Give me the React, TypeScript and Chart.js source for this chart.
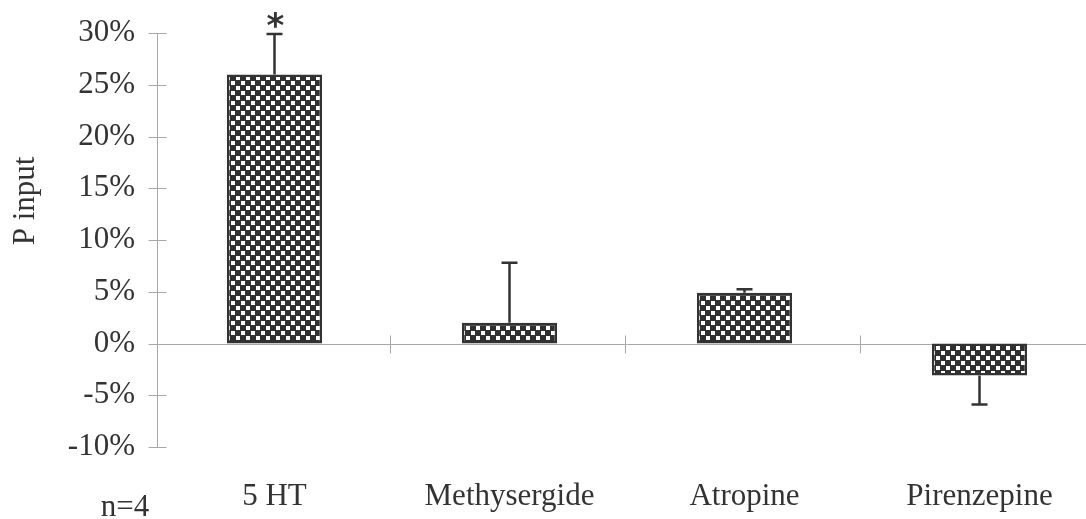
import React, { useEffect, useRef } from "react";
import { Chart, registerables } from "chart.js";

Chart.register(...registerables);

const categories = ["5 HT", "Methysergide", "Atropine", "Pirenzepine"];
const values = [26.0, 2.0, 4.9, -3.1];
const errors = [3.9, 5.8, 0.35, 2.8];
const yTicks = [-10, -5, 0, 5, 10, 15, 20, 25, 30];
const significant = [true, false, false, false];
const yTitle = "P input";
const footnote = "n=4";

const FONT = "'Liberation Serif', 'Times New Roman', serif";
const INK = "#333333";
const AXIS = "#a8a8a8";

function makePattern(): CanvasPattern | string {
  const c = document.createElement("canvas");
  c.width = 10;
  c.height = 10;
  const g = c.getContext("2d");
  if (!g) return INK;
  g.fillStyle = "#303030";
  g.fillRect(0, 0, 10, 10);
  g.fillStyle = "#ffffff";
  g.fillRect(1, 1, 4, 4);
  g.fillRect(6, 6, 4, 4);
  const p = g.createPattern(c, "repeat");
  return p || INK;
}

const axesPlugin = {
  id: "customAxes",
  beforeDatasetsDraw(chart: any) {
    const { ctx, chartArea, scales } = chart;
    const y = scales.y;
    const x = scales.x;
    ctx.save();
    ctx.strokeStyle = AXIS;
    ctx.lineWidth = 1;
    const ax = Math.round(chartArea.left) + 0.5;
    ctx.beginPath();
    ctx.moveTo(ax, y.getPixelForValue(yTicks[yTicks.length - 1]));
    ctx.lineTo(ax, y.getPixelForValue(yTicks[0]));
    ctx.stroke();
    for (const t of yTicks) {
      const py = Math.round(y.getPixelForValue(t)) + 0.5;
      ctx.beginPath();
      ctx.moveTo(ax - 9, py);
      ctx.lineTo(ax + 9, py);
      ctx.stroke();
    }
    const zy = Math.round(y.getPixelForValue(0)) + 0.5;
    ctx.beginPath();
    ctx.moveTo(ax, zy);
    ctx.lineTo(chartArea.right, zy);
    ctx.stroke();
    for (let i = 0; i < categories.length - 1; i++) {
      const bx = Math.round((x.getPixelForTick(i) + x.getPixelForTick(i + 1)) / 2) - 1.5;
      ctx.beginPath();
      ctx.moveTo(bx, zy - 9);
      ctx.lineTo(bx, zy + 9);
      ctx.stroke();
    }
    ctx.restore();
  },
  afterDatasetsDraw(chart: any) {
    const { ctx, scales } = chart;
    const y = scales.y;
    const meta = chart.getDatasetMeta(0);
    ctx.save();
    ctx.strokeStyle = INK;
    ctx.lineWidth = 2.5;
    values.forEach((v, i) => {
      const el = meta.data[i];
      const px = el.x;
      const sign = v >= 0 ? 1 : -1;
      const endV = v + sign * errors[i];
      const y0 = y.getPixelForValue(v);
      const y1 = y.getPixelForValue(endV);
      ctx.beginPath();
      ctx.moveTo(px, y0);
      ctx.lineTo(px, y1);
      ctx.moveTo(px - 8, y1);
      ctx.lineTo(px + 8, y1);
      ctx.stroke();
      if (significant[i]) {
        ctx.fillStyle = INK;
        ctx.font = `bold 34px 'DejaVu Sans', sans-serif`;
        ctx.textAlign = "center";
        ctx.textBaseline = "alphabetic";
        ctx.fillText("*", px + 1, y1 + 3);
      }
    });
    ctx.fillStyle = INK;
    ctx.font = `31px ${FONT}`;
    ctx.textAlign = "center";
    ctx.textBaseline = "middle";
    ctx.fillText(footnote, 125, 508);
    ctx.save();
    ctx.translate(26, 201);
    ctx.rotate(-Math.PI / 2);
    ctx.fillText(yTitle, 0, 0);
    ctx.restore();
    ctx.restore();
  },
};

export default function App() {
  const ref = useRef<HTMLCanvasElement | null>(null);
  useEffect(() => {
    if (!ref.current) return;
    const pattern = makePattern();
    const chart = new Chart(ref.current, {
      type: "bar",
      data: {
        labels: categories,
        datasets: [
          {
            data: values,
            backgroundColor: pattern as any,
            borderColor: INK,
            borderWidth: 2.5,
            borderSkipped: false,
            barPercentage: 0.405,
            categoryPercentage: 1,
          },
        ],
      },
      options: {
        responsive: false,
        animation: false,
        devicePixelRatio: 1,
        layout: { padding: { top: 33, right: 3, bottom: 0, left: 0 } },
        plugins: {
          legend: { display: false },
          tooltip: { enabled: false },
          title: { display: false },
        },
        scales: {
          x: {
            type: "category",
            offset: true,
            grid: { display: false, drawTicks: false },
            border: { display: false },
            ticks: {
              color: INK,
              font: { family: FONT, size: 31 },
              padding: 31,
              maxRotation: 0,
              autoSkip: false,
            },
            afterFit: (s: any) => {
              s.height = 72;
            },
          },
          y: {
            type: "linear",
            min: -10,
            max: 30,
            grid: { display: false, drawTicks: false },
            border: { display: false },
            ticks: {
              stepSize: 5,
              color: INK,
              font: { family: FONT, size: 31 },
              padding: 22,
              callback: (v: any) => `${v}%`,
            },
            afterFit: (s: any) => {
              s.width = 157;
              s.paddingTop = 0;
              s.paddingBottom = 0;
            },
          },
        },
      },
      plugins: [axesPlugin],
    });
    return () => chart.destroy();
  }, []);
  return (
    <div
      style={{
        position: "fixed",
        left: 0,
        top: 0,
        width: 1086,
        height: 519,
        overflow: "hidden",
        background: "#ffffff",
      }}
    >
      <canvas ref={ref} width={1100} height={519} style={{ display: "block" }} />
    </div>
  );
}
